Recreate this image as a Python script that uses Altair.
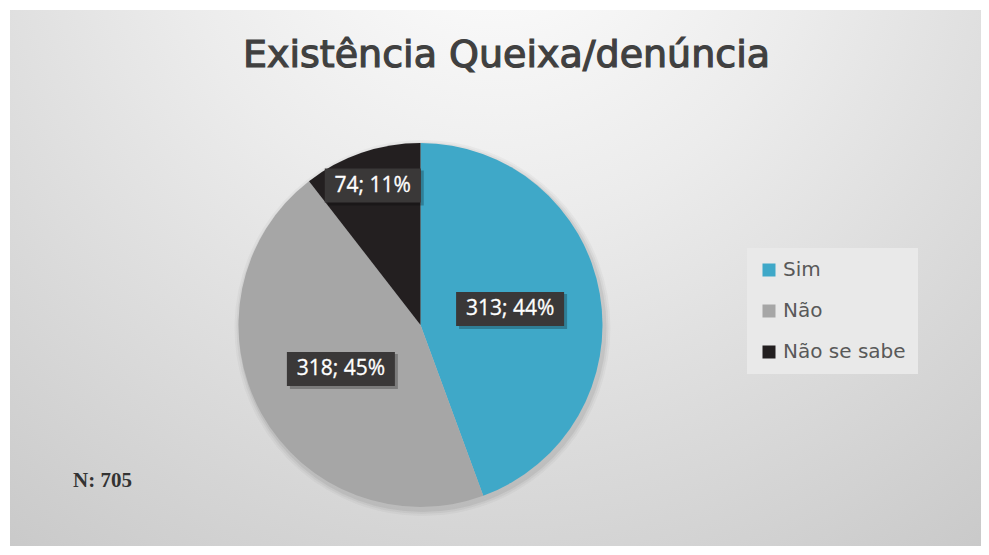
import altair as alt
import pandas as pd

categories = ["Sim", "Não", "Não se sabe"]
counts = [313, 318, 74]
percents = [44, 45, 11]
colors = ["#3fa8c8", "#a6a6a6", "#231f20"]
title_text = "Existência Queixa/denúncia"
note_text = "N: 705"

df = pd.DataFrame({
    "cat": categories,
    "value": counts,
    "pct": percents,
    "order": list(range(len(categories))),
})

W, H = 973, 538
CX, CY, R = 412.5, 317, 182

color_scale = alt.Scale(domain=categories, range=colors)

bg = alt.Chart(alt.Data(values=[{"a": 1}])).mark_rect(
    fill={
        "gradient": "radial",
        "x1": 0.5, "y1": 0.1, "r1": 0,
        "x2": 0.5, "y2": 0.1, "r2": 0.95,
        "stops": [
            {"offset": 0, "color": "#ffffff"},
            {"offset": 0.35, "color": "#ececec"},
            {"offset": 1, "color": "#c2c2c2"},
        ],
    }
).encode(x=alt.value(2), x2=alt.value(W), y=alt.value(2), y2=alt.value(H))

base = alt.Chart(df)

shadows = []
for extra, op in [(6, 0.03), (4, 0.04), (2, 0.06)]:
    shadows.append(
        base.mark_arc(radius=R + extra, color="#000000", opacity=op).encode(
            theta=alt.Theta("value:Q", stack=True),
            order=alt.Order("order:Q"),
            x=alt.value(CX + 2),
            y=alt.value(CY + 3),
        )
    )

pie = base.mark_arc(radius=R).encode(
    theta=alt.Theta("value:Q", stack=True),
    color=alt.Color(
        "cat:N",
        scale=color_scale,
        sort=categories,
        legend=alt.Legend(
            title=None,
            orient="none",
            legendX=739,
            legendY=240,
            fillColor="#e9e9e9",
            padding=12,
            symbolType="square",
            symbolSize=169,
            symbolStrokeWidth=0,
            labelFont="DejaVu Sans",
            labelFontSize=20,
            labelColor="#595959",
            labelOffset=4,
            rowPadding=21,
        ),
    ),
    order=alt.Order("order:Q"),
    x=alt.value(CX),
    y=alt.value(CY),
)

lab = base.transform_joinaggregate(total="sum(value)").transform_window(
    cum="sum(value)", sort=[alt.SortField("order")], frame=[None, 0]
).transform_calculate(
    mid="(datum.cum - datum.value / 2) / datum.total * 2 * PI",
    share="datum.value / datum.total",
).transform_calculate(
    lr=f"datum.share < 0.2 ? {R * 0.81} : {R * 0.5}",
    label="datum.value + '; ' + datum.pct + '%'",
).transform_calculate(
    lx=f"{CX} + datum.lr * sin(datum.mid)",
    ly=f"{CY} - datum.lr * cos(datum.mid)",
    bw="12 * length(datum.label) + 12",
).transform_calculate(
    bx1="datum.lx - datum.bw / 2",
    bx2="datum.lx + datum.bw / 2",
    by1="datum.ly - 17",
    by2="datum.ly + 17",
    sx1="datum.lx - datum.bw / 2 + 3",
    sx2="datum.lx + datum.bw / 2 + 3",
    sy1="datum.ly - 15",
    sy2="datum.ly + 20",
)

box_shadow = lab.mark_rect(color="#000000", opacity=0.25).encode(
    x=alt.X("sx1:Q", scale=None), x2="sx2:Q",
    y=alt.Y("sy1:Q", scale=None), y2="sy2:Q",
)
box = lab.mark_rect(color="#3a3838").encode(
    x=alt.X("bx1:Q", scale=None), x2="bx2:Q",
    y=alt.Y("by1:Q", scale=None), y2="by2:Q",
)
txt = lab.mark_text(
    font="Open Sans", fontSize=21, color="#ffffff", align="center", baseline="middle",
    stroke="#ffffff", strokeWidth=0.3,
).encode(
    x=alt.X("lx:Q", scale=None),
    y=alt.Y("ly:Q", scale=None),
    text="label:N",
)

title = alt.Chart(alt.Data(values=[{"t": title_text}])).mark_text(
    font="DejaVu Sans", fontSize=38, color="#404040", align="center", baseline="alphabetic",
    stroke="#404040", strokeWidth=1.2,
).encode(x=alt.value(498.5), y=alt.value(59), text="t:N")

note = alt.Chart(alt.Data(values=[{"t": note_text}])).mark_text(
    font="Liberation Serif", fontSize=21, fontWeight="bold", color="#333333",
    align="left", baseline="alphabetic"
).encode(x=alt.value(65), y=alt.value(479), text="t:N")

chart = alt.layer(bg, *shadows, pie, box_shadow, box, txt, title, note).properties(
    width=W, height=H, padding=0, autosize=alt.AutoSizeParams(type="none"),
    background="#ffffff",
).configure_view(stroke=None)

chart.save("out.html", embed_options={"renderer": "svg", "actions": False})
